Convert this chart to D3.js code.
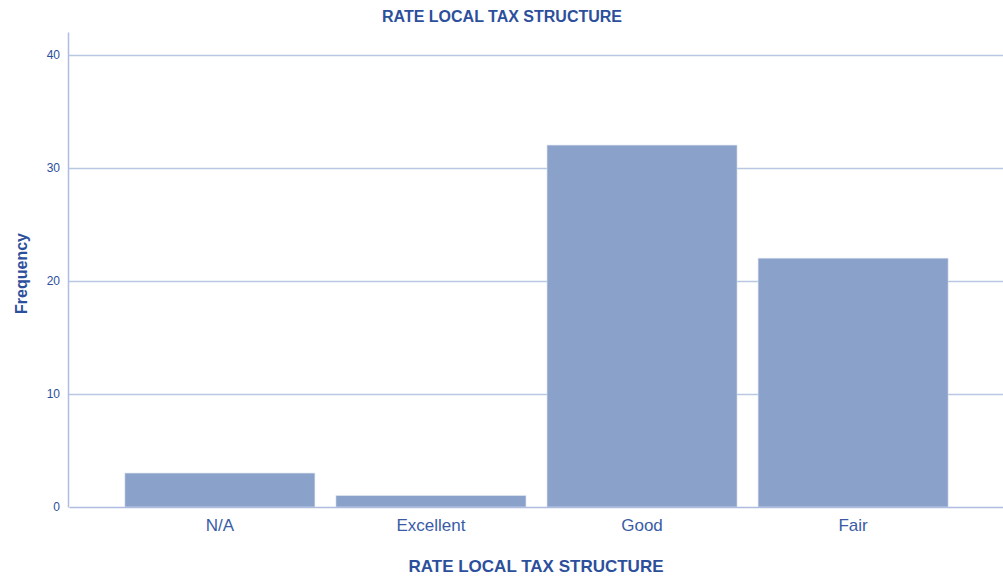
<!DOCTYPE html>
<html>
<head>
<meta charset="utf-8">
<script src="https://cdn.jsdelivr.net/npm/d3@7"></script>
<style>
  body { margin: 0; background: #fff; }
  svg { font-family: "Liberation Sans", Arial, sans-serif; }
</style>
</head>
<body>
<div id="chart"></div>
<script>
const categories = ['N/A', 'Excellent', 'Good', 'Fair'];
const counts = [3, 1, 32, 22];
const yTicks = [0, 10, 20, 30, 40];

const W = 1003, H = 579;
const margin = { top: 32, right: 0, bottom: 72, left: 68 };
const textColor = '#2c4f9c';

const svg = d3.select('#chart').append('svg')
  .attr('width', W)
  .attr('height', H);

const x = d3.scaleBand()
  .domain(categories)
  .range([margin.left + 1, W - margin.right + 1])
  .paddingInner(0.1)
  .paddingOuter(0.265);

const y = d3.scaleLinear()
  .domain([0, 42])
  .range([H - margin.bottom, margin.top]);

// gridlines
svg.append('g')
  .selectAll('line')
  .data(yTicks.filter(d => d > 0))
  .join('line')
  .attr('x1', margin.left)
  .attr('x2', W - margin.right)
  .attr('y1', d => Math.round(y(d)) + 0.5)
  .attr('y2', d => Math.round(y(d)) + 0.5)
  .attr('stroke', '#b9c7e2')
  .attr('stroke-width', 1.5);

// bars
svg.append('g')
  .selectAll('rect')
  .data(categories)
  .join('rect')
  .attr('x', d => x(d))
  .attr('y', (d, i) => y(counts[i]))
  .attr('width', x.bandwidth())
  .attr('height', (d, i) => y(0) - y(counts[i]))
  .attr('fill', '#8aa1ca')
  .attr('stroke', '#d4dcec')
  .attr('stroke-width', 0.6);

// y axis
const yAxis = svg.append('g')
  .attr('transform', `translate(${margin.left},0)`)
  .call(d3.axisLeft(y).tickValues(yTicks).tickSize(0).tickPadding(8));
yAxis.select('.domain')
  .attr('stroke', '#aebde0')
  .attr('stroke-width', 1.5);
yAxis.selectAll('text')
  .attr('fill', textColor)
  .style('font-size', '12px');

// x axis
const xAxis = svg.append('g')
  .attr('transform', `translate(0,${y(0)})`)
  .call(d3.axisBottom(x).tickSize(0).tickPadding(12));
xAxis.select('.domain')
  .attr('stroke', '#aebde0')
  .attr('stroke-width', 1.5);
xAxis.selectAll('text')
  .attr('fill', '#3a5ca6')
  .style('font-size', '17px');

// titles
svg.append('text')
  .attr('x', 502)
  .attr('y', 22)
  .attr('text-anchor', 'middle')
  .attr('fill', textColor)
  .style('font-size', '16px')
  .style('font-weight', 'bold')
  .text('RATE LOCAL TAX STRUCTURE');

svg.append('text')
  .attr('x', 536)
  .attr('y', 572)
  .attr('text-anchor', 'middle')
  .attr('fill', textColor)
  .style('font-size', '17px')
  .style('font-weight', 'bold')
  .text('RATE LOCAL TAX STRUCTURE');

svg.append('text')
  .attr('transform', `translate(27,${(margin.top + H - margin.bottom) / 2 + 4}) rotate(-90)`)
  .attr('text-anchor', 'middle')
  .attr('fill', textColor)
  .style('font-size', '16px')
  .style('font-weight', 'bold')
  .text('Frequency');
</script>
</body>
</html>
